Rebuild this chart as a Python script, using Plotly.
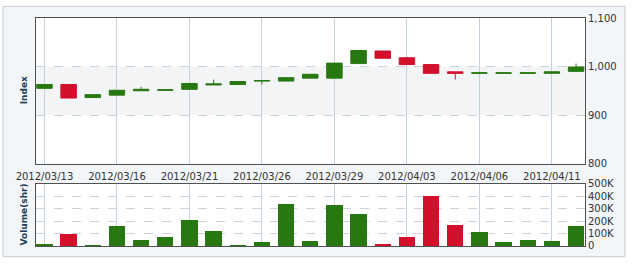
import plotly.graph_objects as go

dates = ["2012/03/13", "2012/03/14", "2012/03/15", "2012/03/16", "2012/03/19", "2012/03/20",
         "2012/03/21", "2012/03/22", "2012/03/23", "2012/03/26", "2012/03/27", "2012/03/28",
         "2012/03/29", "2012/03/30", "2012/04/02", "2012/04/03", "2012/04/04", "2012/04/05",
         "2012/04/06", "2012/04/09", "2012/04/10", "2012/04/11", "2012/04/12"]
opens = [955, 963, 936, 941, 950, 951, 953, 962, 963, 970, 970, 976,
         976, 1006, 1032, 1018, 1004, 989, 986, 986, 986, 986, 990]
highs = [963, 963, 942, 951, 958, 952, 965, 973, 969, 971, 977, 984,
         1007, 1033, 1032, 1020, 1004, 989, 987, 987, 987, 989, 1006]
lows = [955, 935, 936, 941, 950, 951, 953, 962, 963, 963, 969, 976,
        976, 1006, 1017, 1004, 986, 973, 986, 986, 986, 986, 990]
closes = [963, 935, 942, 951, 953, 952, 965, 964, 969, 971, 977, 984,
          1007, 1033, 1017, 1004, 986, 986, 987, 987, 987, 989, 999]
volumes = [16000, 100000, 10000, 159000, 47000, 73000, 208000, 125000, 10000, 31000, 336000, 39000,
           328000, 258000, 13000, 76000, 406000, 167000, 117000, 31000, 47000, 39000, 164000]

price_ticks = [800, 900, 1000, 1100]
price_labels = ["800", "900", "1,000", "1,100"]
vol_ticks = [0, 100000, 200000, 300000, 400000, 500000]
vol_labels = ["0", "100K", "200K", "300K", "400K", "500K"]
date_tick_idx = [0, 3, 6, 9, 12, 15, 18, 21]

GREEN = "#287812"
RED = "#d2102b"
idx = list(range(len(dates)))
vol_colors = [GREEN if c >= o else RED for o, c in zip(opens, closes)]

fig = go.Figure()
fig.add_trace(go.Candlestick(
    x=idx, open=opens, high=highs, low=lows, close=closes,
    increasing=dict(line=dict(color=GREEN, width=1), fillcolor=GREEN),
    decreasing=dict(line=dict(color=RED, width=1), fillcolor=RED),
    whiskerwidth=0, xaxis="x", yaxis="y", hoverinfo="skip", showlegend=False))
fig.add_trace(go.Bar(
    x=idx, y=volumes, width=0.68, marker=dict(color=vol_colors, line=dict(width=0)),
    xaxis="x2", yaxis="y2", hoverinfo="skip", showlegend=False))

L, R, T, B = 36, 585, 15, 250
W, H = 633, 264
ph = B - T
pw = R - L
top_bottom = 165
vol_top = 186

font = dict(family="DejaVu Sans", size=10, color="#333333")
xr = [-0.35, 22.37]
common_x = dict(range=xr, tickmode="array", tickvals=date_tick_idx,
                showgrid=True, gridcolor="#c3d2db", gridwidth=1,
                showline=True, mirror=True, linecolor="#505050", linewidth=1,
                zeroline=False, ticks="", fixedrange=True)

fig.update_layout(
    width=W, height=H,
    margin=dict(l=L, r=W - R, t=T, b=H - B),
    paper_bgcolor="white", plot_bgcolor="white",
    font=font, boxgap=0.36, boxgroupgap=0, bargap=0,
    xaxis=dict(**common_x, anchor="y", ticktext=[dates[i] for i in date_tick_idx],
               showticklabels=True, rangeslider=dict(visible=False), tickfont=font,
               ticklabelstandoff=3),
    xaxis2=dict(**common_x, anchor="y2", ticktext=[dates[i] for i in date_tick_idx],
                showticklabels=False),
    yaxis=dict(domain=[(B - top_bottom) / ph, 1], range=[800, 1100], side="right",
               tickmode="array", tickvals=price_ticks, ticktext=price_labels,
               showgrid=True, gridcolor="#c9d3da", griddash="dash",
               showline=True, mirror=True, linecolor="#505050", linewidth=1,
               zeroline=False, ticks="", tickfont=font, fixedrange=True),
    yaxis2=dict(domain=[0, (B - vol_top) / ph], range=[0, 500000], side="right",
                tickmode="array", tickvals=vol_ticks, ticktext=vol_labels,
                showgrid=True, gridcolor="#c9d3da", griddash="dash",
                showline=True, mirror=True, linecolor="#505050", linewidth=1,
                zeroline=False, ticks="", tickfont=font, fixedrange=True),
)

shapes = [
    dict(type="rect", xref="paper", yref="paper", layer="below",
         x0=(3 - L) / pw, x1=(625 - L) / pw, y0=(B - 261) / ph, y1=(B - 3) / ph,
         fillcolor="#f3f6f8", line=dict(color="#c4ccd2", width=1)),
    dict(type="rect", xref="x domain", yref="y domain", layer="below",
         x0=0, x1=1, y0=0, y1=1, fillcolor="white", line=dict(width=0)),
    dict(type="rect", xref="x domain", yref="y", layer="below",
         x0=0, x1=1, y0=900, y1=1000, fillcolor="#f2f4f6", line=dict(width=0)),
    dict(type="rect", xref="x2 domain", yref="y2 domain", layer="below",
         x0=0, x1=1, y0=0, y1=1, fillcolor="white", line=dict(width=0)),
]
fig.update_layout(shapes=shapes)

title_font = dict(family="DejaVu Sans", size=9, color="#1d3d58")
fig.add_annotation(text="<b>Index</b>", xref="paper", yref="paper",
                   x=(23.5 - L) / pw, y=(B - 90) / ph, textangle=-90,
                   showarrow=False, xanchor="center", yanchor="middle", font=title_font)
fig.add_annotation(text="<b>Volume(shr)</b>", xref="paper", yref="paper",
                   x=(23.5 - L) / pw, y=(B - 218) / ph, textangle=-90,
                   showarrow=False, xanchor="center", yanchor="middle", font=title_font)

fig.write_html("out.html", config=dict(displayModeBar=False))
